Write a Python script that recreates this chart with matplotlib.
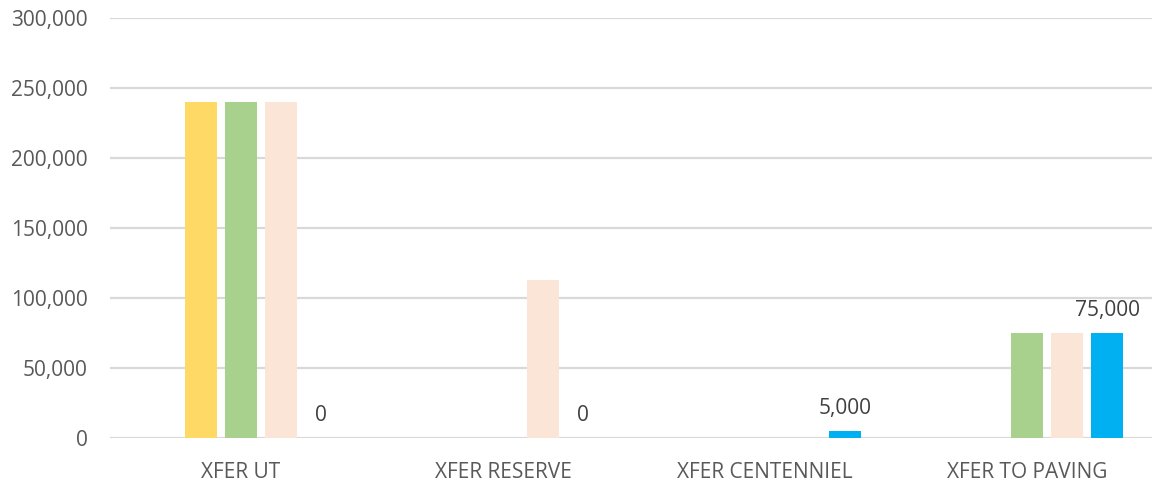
import matplotlib
matplotlib.use("Agg")
import matplotlib.pyplot as plt
from matplotlib.ticker import FuncFormatter
import numpy as np

categories = ["XFER UT", "XFER RESERVE", "XFER CENTENNIEL", "XFER TO PAVING"]
series_yellow = [240000, 0, 0, 0]
series_green = [240000, 0, 0, 75000]
series_peach = [240000, 113000, 0, 75000]
series_blue = [0, 0, 5000, 75000]
yticks = [0, 50000, 100000, 150000, 200000, 250000, 300000]

colors = ["#FFD966", "#A9D18E", "#FBE5D6", "#00B0F0"]
series = [series_yellow, series_green, series_peach, series_blue]
slots = [1, 2, 3, 4]  # slot 0 of the 5-slot group is an empty series

plt.rcParams['font.family'] = ['Open Sans', 'DejaVu Sans']
text_color = "#595959"

fig = plt.figure(figsize=(11.52, 4.82), dpi=100)
W, H = 1152, 482
left, right, bottom, top = 110, 1152, 438, 18
ax = fig.add_axes([left / W, (H - bottom) / H, (right - left) / W, (bottom - top) / H])

x = np.arange(len(categories))
spacing = 40 / 262
width = 32 / 262
for vals, col, s in zip(series, colors, slots):
    ax.bar(x + (s - 2) * spacing, vals, width=width, color=col, zorder=3)

# data labels for blue series
for xi, v in zip(x, series_blue):
    ax.annotate(f"{v:,}", (xi + (4 - 2) * spacing, v), xytext=(0, 16),
                textcoords="offset points", ha="center", va="center",
                fontsize=15, color="#404040", zorder=4)

ax.set_xlim(-0.5, (right - left) / 262 - 0.5)
ax.set_ylim(0, 300000)
ax.set_yticks(yticks)
ax.yaxis.set_major_formatter(FuncFormatter(lambda v, p: f"{int(v):,}"))
ax.set_xticks(x)
ax.set_xticklabels(categories)
ax.grid(axis="y", color="#D9D9D9", linewidth=1.6, zorder=0)
for sp in ax.spines.values():
    sp.set_visible(False)
ax.tick_params(axis="y", length=0, pad=16, labelsize=15, labelcolor=text_color)
ax.tick_params(axis="x", length=0, pad=17, labelsize=15, labelcolor=text_color)

fig.savefig("out.png", dpi=100)
